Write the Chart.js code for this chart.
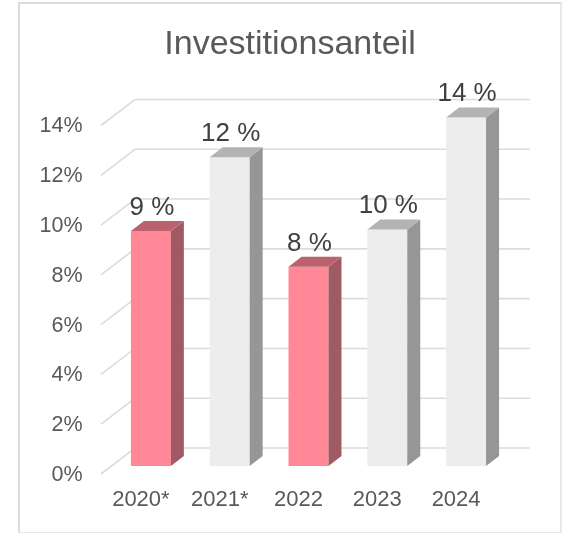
<!DOCTYPE html>
<html>
<head>
<meta charset="utf-8">
<title>Investitionsanteil</title>
<script src="https://cdn.jsdelivr.net/npm/chart.js@4/dist/chart.umd.min.js"></script>
<style>
  html, body { margin: 0; padding: 0; background: #fff; }
  #wrap { position: relative; width: 562px; height: 533px; overflow: hidden; }
  #frame { position: absolute; left: 18px; top: 2px; width: 540px; height: 528px; border: 2px solid #dcdcdc; border-right-color: #e8e8e8; border-bottom-color: #e8e8e8; }
  canvas { position: absolute; left: 0; top: 0; }
</style>
</head>
<body>
<div id="wrap">
  <div id="frame"></div>
  <canvas id="chart" width="562" height="533"></canvas>
</div>
<script>
const chartTitle = 'Investitionsanteil';
const categories = ['2020*', '2021*', '2022', '2023', '2024'];
const shares = [9.44, 12.4, 8.0, 9.5, 14.0];
const shareLabels = ['9 %', '12 %', '8 %', '10 %', '14 %'];
const highlighted = [true, false, true, false, false];

const FONT = '"Liberation Sans", Arial, sans-serif';

// 3D look, offsets are relative to the front plane of the bars
const depth = { dx: 13, dy: 10 };
const wall = { left: 101, back: 135, right: 530, frontDy: 8, backDy: -18 };

const colors = {
  pink: { front: '#ff8796', side: '#a05a64', top: '#bc626e' },
  grey: { front: '#ededed', side: '#969696', top: '#b3b3b3' },
};

function poly(ctx, pts, fill) {
  ctx.beginPath();
  pts.forEach(([x, y], i) => (i ? ctx.lineTo(x, y) : ctx.moveTo(x, y)));
  ctx.closePath();
  ctx.fillStyle = fill;
  ctx.fill();
}

// Back wall grid lines with the slanted stub on the left
const wallGrid = {
  id: 'wallGrid',
  beforeDatasetsDraw(chart) {
    const { ctx, scales: { y } } = chart;
    ctx.save();
    ctx.strokeStyle = '#dcdcdc';
    ctx.lineWidth = 1.6;
    y.ticks.forEach(t => {
      const py = y.getPixelForValue(t.value);
      ctx.beginPath();
      ctx.moveTo(wall.left, py + wall.frontDy);
      ctx.lineTo(wall.back, py + wall.backDy);
      ctx.lineTo(wall.right, py + wall.backDy);
      ctx.stroke();
    });
    ctx.restore();
  },
};

// Side and top faces of the bars, then the value labels
const barFaces = {
  id: 'barFaces',
  afterDatasetsDraw(chart) {
    const { ctx } = chart;
    const { dx, dy } = depth;
    ctx.save();
    chart.getDatasetMeta(0).data.forEach((bar, i) => {
      const c = highlighted[i] ? colors.pink : colors.grey;
      const l = bar.x - bar.width / 2;
      const r = bar.x + bar.width / 2;
      poly(ctx, [[r, bar.y], [r + dx, bar.y - dy], [r + dx, bar.base - dy], [r, bar.base]], c.side);
      poly(ctx, [[l, bar.y], [l + dx, bar.y - dy], [r + dx, bar.y - dy], [r, bar.y]], c.top);
      ctx.fillStyle = '#404040';
      ctx.font = `26px ${FONT}`;
      ctx.textAlign = 'center';
      ctx.textBaseline = 'middle';
      ctx.fillText(shareLabels[i], bar.x + 1, bar.y - 23.5);
    });
    ctx.restore();
  },
};

// Title is centred on the frame, not on the plot area, so it is drawn here
const frameTitle = {
  id: 'frameTitle',
  afterDraw(chart) {
    const { ctx } = chart;
    ctx.save();
    ctx.fillStyle = '#595959';
    ctx.font = `34px ${FONT}`;
    ctx.textAlign = 'center';
    ctx.textBaseline = 'middle';
    ctx.fillText(chartTitle, 290, 45);
    ctx.restore();
  },
};

new Chart(document.getElementById('chart'), {
  type: 'bar',
  data: {
    labels: categories,
    datasets: [{
      data: shares,
      backgroundColor: highlighted.map(h => (h ? colors.pink.front : colors.grey.front)),
      borderWidth: 0,
      barPercentage: 0.507,
      categoryPercentage: 1,
    }],
  },
  options: {
    responsive: false,
    animation: false,
    layout: { padding: { top: 117.5, right: 56.5, bottom: 0, left: 0 } },
    plugins: {
      legend: { display: false },
      tooltip: { enabled: false },
      title: { display: false },
    },
    scales: {
      x: {
        grid: { display: false },
        border: { display: false },
        ticks: { color: '#595959', font: { family: FONT, size: 22 }, padding: 13, labelOffset: -10 },
        afterFit: s => { s.height = 67; },
      },
      y: {
        min: 0,
        max: 14,
        grid: { display: false },
        border: { display: false },
        ticks: {
          stepSize: 2,
          color: '#595959',
          font: { family: FONT, size: 21.5 },
          padding: 21,
          labelOffset: 9,
          callback: v => `${v}%`,
        },
        afterFit: s => { s.width = 111.5; },
      },
    },
  },
  plugins: [wallGrid, barFaces, frameTitle],
});
</script>
</body>
</html>
